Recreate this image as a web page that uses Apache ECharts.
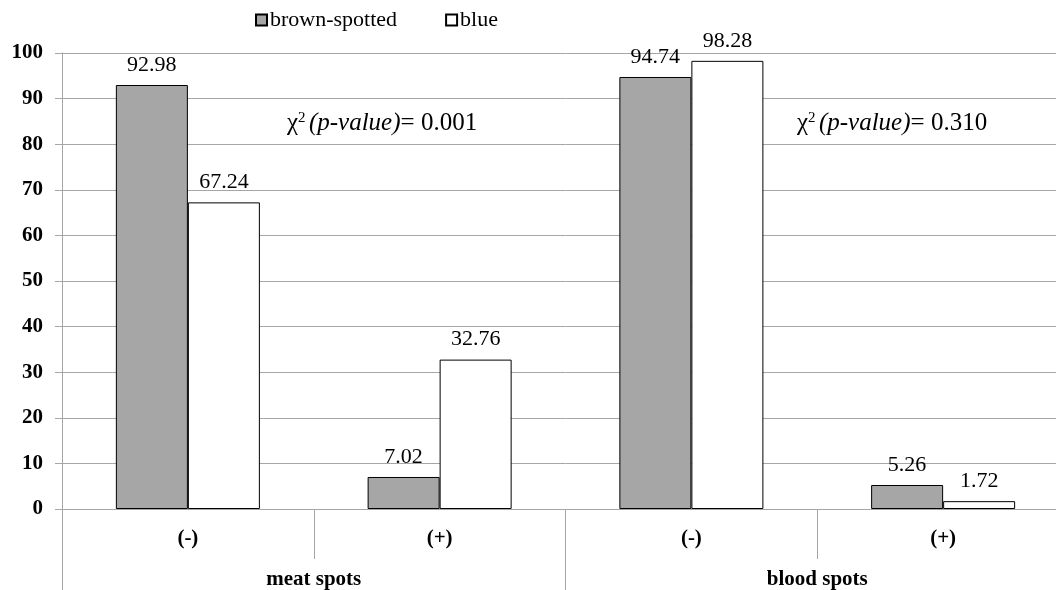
<!DOCTYPE html>
<html>
<head>
<meta charset="utf-8">
<script src="https://cdn.jsdelivr.net/npm/echarts@6/dist/echarts.min.js"></script>
<style>
html,body{margin:0;padding:0;background:#fff;overflow:hidden;width:1056px;height:590px;}
#c{width:1069px;height:590px;}
</style>
</head>
<body>
<div id="c"></div>
<script>
const subCategories = ['(-)', '(+)', '(-)', '(+)'];
const groupCategories = ['meat spots', 'blood spots'];
const brownSpotted = [92.98, 7.02, 94.74, 5.26];
const blue = [67.24, 32.76, 98.28, 1.72];
const pValues = ['0.001', '0.310'];
const yTicks = { min: 0, max: 100, interval: 10 };

const serif = '"Liberation Serif", "Times New Roman", serif';
const chart = echarts.init(document.getElementById('c'));

function annot(p) {
  return {
    text: '{n|χ}{sup|2} {i|(p-value)}{n|= ' + p + '}',
    rich: {
      n: { fontFamily: serif, fontSize: 25, fill: '#000', color: '#000' },
      sup: { fontFamily: serif, fontSize: 15, verticalAlign: 'top', padding: [0, 0, 10, 0], fill: '#000', color: '#000' },
      i: { fontFamily: serif, fontSize: 25, fontStyle: 'italic', fill: '#000', color: '#000' }
    },
    fill: '#000'
  };
}

chart.setOption({
  animation: false,
  backgroundColor: '#fff',
  legend: {
    left: 250,
    top: 4,
    icon: 'rect',
    itemWidth: 11,
    itemHeight: 11,
    itemGap: 48,
    textStyle: { fontFamily: serif, fontSize: 22, color: '#000', padding: [0, 0, 0, -2] },
    data: ['brown-spotted', 'blue']
  },
  grid: { left: 62, right: 0, top: 53, bottom: 81, containLabel: false },
  xAxis: [
    {
      type: 'category',
      position: 'bottom',
      data: subCategories,
      axisLine: { show: true, lineStyle: { color: '#a6a6a6', width: 1 } },
      axisTick: { show: true, interval: 0, length: 50, lineStyle: { color: '#a6a6a6' } },
      axisLabel: { interval: 0, margin: 19, fontFamily: serif, fontSize: 21, fontWeight: 'bold', color: '#000' }
    },
    {
      type: 'category',
      position: 'bottom',
      offset: 0,
      data: groupCategories,
      axisLine: { show: false },
      axisTick: { show: true, interval: 0, length: 82, lineStyle: { color: '#a6a6a6' } },
      axisLabel: { interval: 0, margin: 60, fontFamily: serif, fontSize: 21, fontWeight: 'bold', color: '#000' }
    }
  ],
  yAxis: {
    type: 'value',
    min: yTicks.min,
    max: yTicks.max,
    interval: yTicks.interval,
    axisLine: { show: true, lineStyle: { color: '#a6a6a6' } },
    axisTick: { show: true, length: 7, lineStyle: { color: '#a6a6a6' } },
    axisLabel: { margin: 19, fontFamily: serif, fontSize: 21, fontWeight: 'bold', color: '#000' },
    splitLine: { show: true, lineStyle: { color: '#a6a6a6', width: 1 } }
  },
  series: [
    {
      name: 'brown-spotted',
      type: 'bar',
      xAxisIndex: 0,
      data: brownSpotted,
      barWidth: '28.6%',
      barGap: '0%',
      itemStyle: { color: '#a6a6a6', borderColor: '#000', borderWidth: 1 },
      label: { show: true, position: 'top', distance: 9, fontFamily: serif, fontSize: 22, color: '#000', formatter: p => p.value.toFixed(2) }
    },
    {
      name: 'blue',
      type: 'bar',
      xAxisIndex: 0,
      data: blue,
      barWidth: '28.6%',
      barGap: '0%',
      itemStyle: { color: '#ffffff', borderColor: '#000', borderWidth: 1 },
      label: { show: true, position: 'top', distance: 9, fontFamily: serif, fontSize: 22, color: '#000', formatter: p => p.value.toFixed(2) }
    }
  ],
  graphic: [
    { type: 'text', left: 287, top: 111, style: annot(pValues[0]) },
    { type: 'text', left: 797, top: 111, style: annot(pValues[1]) }
  ]
});
</script>
</body>
</html>
